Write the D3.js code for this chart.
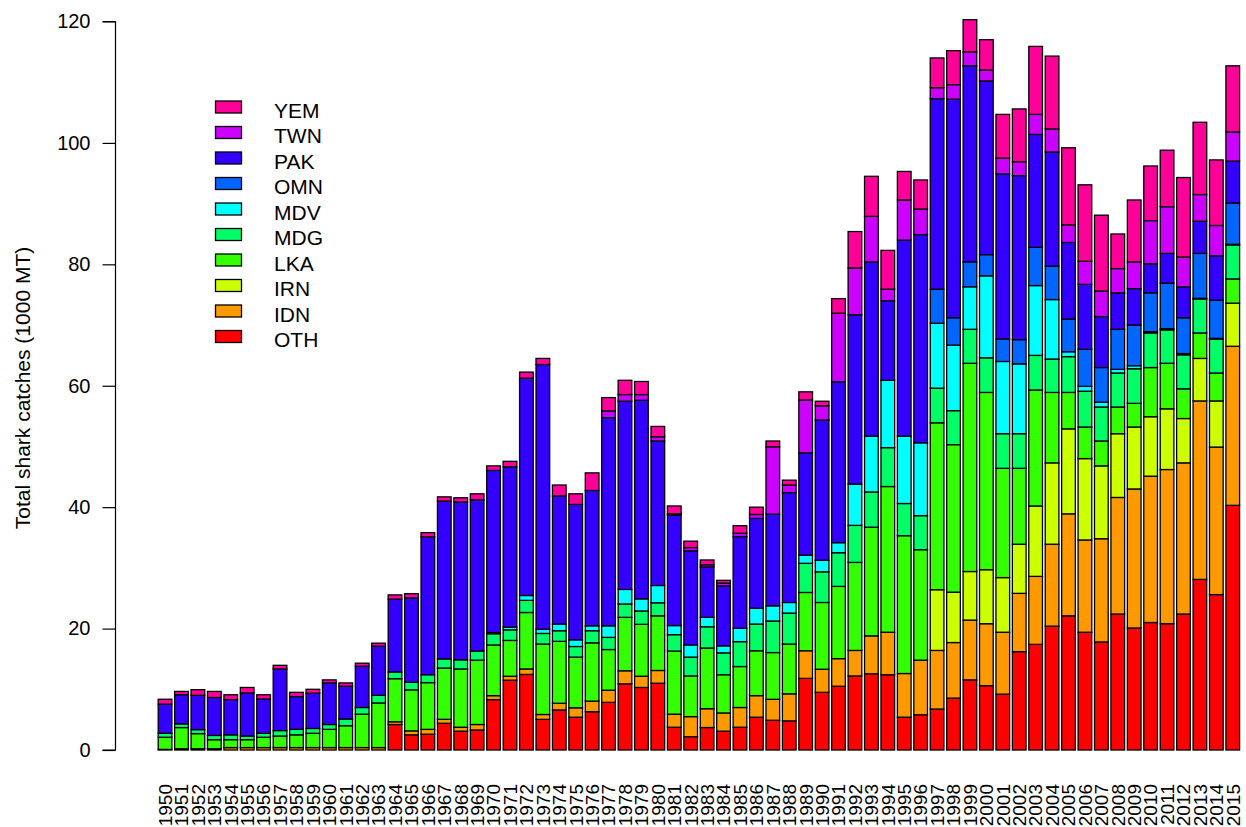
<!DOCTYPE html>
<html><head><meta charset="utf-8">
<script src="https://cdn.jsdelivr.net/npm/d3@7"></script>
<style>body{margin:0;background:#fff}svg{display:block}text{font-family:"Liberation Sans",Arial,sans-serif}</style>
</head><body><svg id="c" width="1246" height="827"></svg>
<script>
const years = d3.range(1950, 2016).map(String);
const series = ["OTH","IDN","IRN","LKA","MDG","MDV","OMN","PAK","TWN","YEM"];
const colors = ["#FF0000","#FF9900","#CCFF00","#33FF00","#00FF66","#00FFFF","#0066FF","#3300FF","#CC00FF","#FF0099"];
const yTicks = [0,20,40,60,80,100,120];
const z14 = [0,0,0,0,0,0,0,0,0,0,0,0,0,0];

const OTH = z14.concat([4.2,2.5,2.6,4.4,3.1,3.3,8.3,11.5,12.45,5.05,6.6,5.4,6.3,7.85,10.9,10.3,11.0,3.75,2.2,3.7,3.1,3.75,5.4,4.9,4.8,11.8,9.5,10.5,12.2,12.55,12.4,5.4,5.8,6.75,8.55,11.55,10.6,9.2,16.2,17.4,20.4,22.1,19.4,17.8,22.4,20.1,21.0,20.8,22.4,28.1,25.6,40.3]);
const IDN = [0.1,0.2,0.2,0.2,0.4,0.4,0.4,0.4,0.4,0.4,0.4,0.4,0.4,0.4,0.45,0.65,0.8,0.65,0.65,0.9,0.65,0.65,0.9,0.8,1.1,1.55,1.75,2.0,2.15,1.85,2.1,2.15,3.3,3.1,3.0,3.25,3.55,3.45,4.45,4.55,3.8,4.55,4.2,6.25,7.0,7.2,9.0,9.65,9.15,9.85,10.2,10.2,9.6,11.2,13.5,16.8,15.2,17.0,19.2,22.9,24.1,25.4,24.9,29.4,24.3,26.2];
const IRN = d3.range(47).map(()=>0).concat([10.0,8.3,8.0,8.9,9.0,8.1,11.6,13.4,14.0,13.4,12.0,10.5,10.2,9.8,10.0,7.3,7.0,7.6,7.1]);
const LKA = [2.0,3.5,2.5,1.5,1.3,1.3,1.7,1.9,2.1,2.35,3.0,3.6,5.5,7.35,7.1,6.75,7.7,8.45,9.6,10.6,8.35,5.9,9.3,11.6,10.2,8.35,9.6,6.7,8.8,8.55,9.0,10.4,6.7,10.0,6.3,6.75,7.4,7.7,8.2,9.6,11.0,11.9,14.5,17.9,24.0,22.7,18.2,27.5,24.3,34.3,29.2,18.0,12.5,19.1,11.6,6.0,5.2,4.1,4.4,3.9,8.1,7.5,4.9,4.2,4.6,4.0];
const MDG = [0.66,0.6,0.66,0.7,0.8,0.6,0.65,0.9,0.9,0.8,0.8,1.1,1.1,1.25,1.1,1.25,1.3,1.5,1.5,1.5,1.85,1.75,2.0,1.75,1.75,1.75,2.0,2.0,2.2,2.2,2.15,2.7,3.1,3.5,3.6,4.1,4.4,5.2,5.1,4.8,5.05,5.55,6.1,5.8,6.4,5.3,5.6,5.7,5.6,5.6,5.7,5.7,5.7,5.7,5.5,5.9,5.9,5.6,5.6,5.7,5.7,5.5,5.6,5.6,5.6,5.6];
const MDV = d3.range(20).map(()=>0).concat([0.2,0.45,0.8,0.7,1.1,1.1,0.8,1.9,2.4,2.0,2.85,1.5,2.0,1.55,1.15,2.2,2.6,2.5,1.75,1.35,1.9,1.65,6.8,9.2,11.1,11.1,12.0,10.7,10.8,7.0,13.5,11.9,11.5,11.5,9.8,0.8,0.8,0.8,0.6,0.5,0.2,0.2,0.2,0.1,0.1,0.1]);
const OMN = d3.range(47).map(()=>0).concat([5.6,4.5,4.1,3.5,3.7,4.0,6.3,5.5,5.4,6.1,5.7,6.6,6.7,6.4,7.5,5.9,7.4,6.3,6.8]);
const PAK = [4.8,4.8,5.65,6.25,5.8,7.1,5.65,10.15,5.4,5.8,6.85,5.4,6.8,8.1,12.0,13.9,22.7,26.0,26.0,24.9,26.7,26.4,35.8,43.6,21.1,22.3,22.3,34.3,31.0,32.7,23.8,18.2,15.5,8.3,9.9,15.1,14.8,15.1,18.1,16.85,23.1,26.5,27.9,28.7,13.1,32.3,34.3,31.4,36.0,32.3,28.6,27.2,27.0,18.6,18.8,12.6,10.7,8.4,6.0,6.0,4.8,4.9,5.1,5.3,7.3,6.9];
const TWN = d3.range(27).map(()=>0).concat([1.1,1.1,0.95,0.7,0.2,0.55,0.35,0.45,0.55,0.65,11.1,1.25,8.7,2.35,11.3,7.7,7.5,1.9,6.6,4.2,1.8,2.4,2.3,1.8,2.6,2.3,3.3,3.8,2.9,3.8,4.2,4.0,4.4,7.1,7.7,4.9,4.4,5.0,4.8]);
const YEM = [0.8,0.55,0.93,1.0,0.8,0.9,0.7,0.6,0.7,0.65,0.5,0.55,0.5,0.5,0.7,0.7,0.7,0.7,0.7,1.0,0.75,0.9,1.0,1.0,1.8,1.75,2.9,2.2,2.35,2.15,1.7,1.3,1.05,0.8,0.45,1.25,1.2,0.95,0.8,1.35,0.75,2.4,6.0,6.6,6.4,4.7,4.8,4.9,5.6,5.3,5.0,7.2,8.7,11.2,12.0,12.7,12.6,12.5,5.7,10.2,9.0,9.3,13.1,11.9,10.8,10.9];

const values = {OTH,IDN,IRN,LKA,MDG,MDV,OMN,PAK,TWN,YEM};
const rows = years.map((yr,i)=>{const r={year:yr}; series.forEach(s=>r[s]=values[s][i]); return r;});
const stack = d3.stack().keys(series)(rows);

const svg = d3.select("#c");
const x = d3.scaleBand().domain(years).range([158.2, 1239.6]).paddingInner(1/6).paddingOuter(0);
const y = d3.scaleLinear().domain([0,120]).range([750, 21.5]);
const color = d3.scaleOrdinal().domain(series).range(colors);

const g = svg.append("g");
g.selectAll("g.s").data(stack).join("g").attr("class","s").attr("fill", d=>color(d.key))
  .selectAll("rect").data(d=>d).join("rect")
  .attr("x", d=>x(d.data.year)).attr("width", x.bandwidth())
  .attr("y", d=>y(d[1])).attr("height", d=>Math.max(0, y(d[0])-y(d[1])))
  .attr("stroke","#000").attr("stroke-width",1.3);

// y axis
const ax = svg.append("g").attr("transform","translate(115.5,0)")
  .call(d3.axisLeft(y).tickValues(yTicks).tickSize(13).tickPadding(12).tickFormat(d3.format("d")));
ax.select(".domain").attr("stroke","#000").attr("stroke-width",1.2).attr("d", `M-13,${y(120)}H0V${y(0)}H-13`);
ax.selectAll(".tick line").attr("stroke","#000").attr("stroke-width",1.2);
ax.selectAll(".tick text").attr("font-size",20).attr("fill","#000").attr("font-family","Liberation Sans, Arial, sans-serif");

svg.append("text").attr("transform","translate(30,388) rotate(-90)").attr("text-anchor","middle")
  .attr("font-size",21).attr("fill","#000").text("Total shark catches (1000 MT)");

// x labels
svg.append("g").selectAll("text").data(years).join("text")
  .attr("transform", d=>`translate(${x(d)+x.bandwidth()/2},784) rotate(-90)`)
  .attr("text-anchor","end").attr("dy","0.36em").attr("font-size",19).attr("fill","#000").text(d=>d);

// legend
const legendOrder = series.slice().reverse();
const lg = svg.append("g").selectAll("g").data(legendOrder).join("g")
  .attr("transform",(d,i)=>`translate(0,${101 + i*25.5})`);
lg.append("rect").attr("x",215.5).attr("y",0).attr("width",26).attr("height",12)
  .attr("fill",d=>color(d)).attr("stroke","#000").attr("stroke-width",1.3);
lg.append("text").attr("x",274).attr("y",16.5).attr("font-size",21).attr("fill","#000").text(d=>d);
</script></body></html>
